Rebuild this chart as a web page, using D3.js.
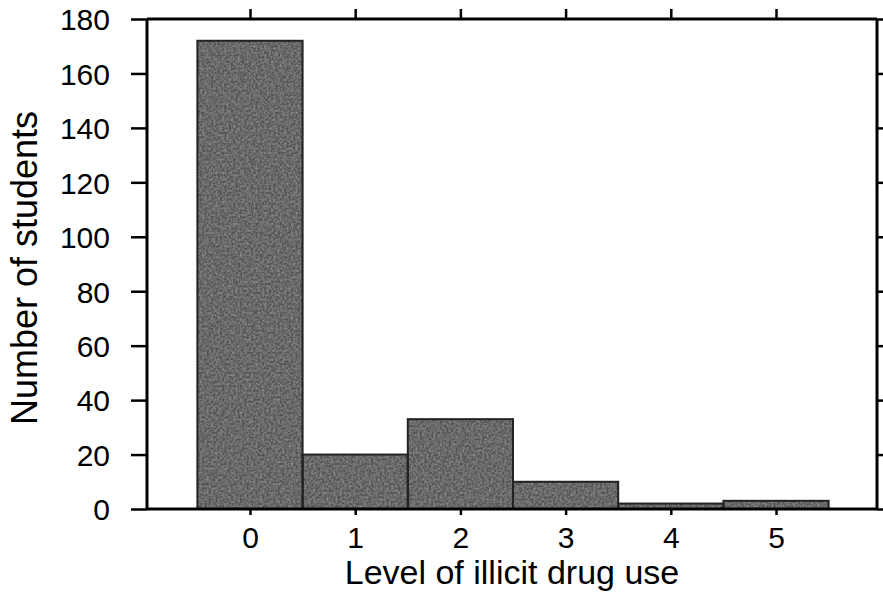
<!DOCTYPE html>
<html>
<head>
<meta charset="utf-8">
<script src="https://cdn.jsdelivr.net/npm/d3@7"></script>
<style>
  html, body { margin: 0; padding: 0; background: #fff; }
  svg { display: block; }
</style>
</head>
<body>
<div id="chart"></div>
<script>
// Histogram data
const levels = [0, 1, 2, 3, 4, 5];
const counts = [172, 20, 33, 10, 2, 3];
const yTicks = [0, 20, 40, 60, 80, 100, 120, 140, 160, 180];

const width = 883, height = 598;
const margin = {top: 19, right: 6, bottom: 89, left: 147};
const innerWidth = width - margin.left - margin.right;
const innerHeight = height - margin.top - margin.bottom;

const svg = d3.select('#chart')
    .append('svg')
    .attr('width', width)
    .attr('height', height);

// Grainy fill like the scanned original
const grain = svg.append('defs').append('filter')
    .attr('id', 'grain')
    .attr('x', 0).attr('y', 0).attr('width', 1).attr('height', 1);
grain.append('feTurbulence')
    .attr('type', 'fractalNoise')
    .attr('baseFrequency', 0.45)
    .attr('numOctaves', 2)
    .attr('seed', 4)
    .attr('result', 'noise');
grain.append('feColorMatrix')
    .attr('in', 'noise')
    .attr('type', 'matrix')
    .attr('values', '0 0 0 0 0.45  0 0 0 0 0.45  0 0 0 0 0.45  0.9 0 0 0 -0.3')
    .attr('result', 'speck');
grain.append('feComposite')
    .attr('in', 'speck')
    .attr('in2', 'SourceAlpha')
    .attr('operator', 'in')
    .attr('result', 'speckIn');
const merge = grain.append('feMerge');
merge.append('feMergeNode').attr('in', 'SourceGraphic');
merge.append('feMergeNode').attr('in', 'speckIn');

const g = svg.append('g')
    .attr('transform', `translate(${margin.left}, ${margin.top})`);

const x = d3.scaleLinear()
    .domain([-0.979, 5.96])
    .range([0, innerWidth]);

const y = d3.scaleLinear()
    .domain([0, 180])
    .range([innerHeight, 0]);

const font = 'Liberation Sans, Arial, sans-serif';

// Bars: grainy fill, then a crisp outline on top
g.selectAll('.bar')
    .data(levels)
    .enter()
    .append('rect')
    .attr('class', 'bar')
    .attr('x', d => x(d - 0.5))
    .attr('width', x(0.5) - x(-0.5))
    .attr('y', (d, i) => y(counts[i]))
    .attr('height', (d, i) => innerHeight - y(counts[i]))
    .attr('fill', '#555555')
    .attr('filter', 'url(#grain)');

g.selectAll('.bar-edge')
    .data(levels)
    .enter()
    .append('rect')
    .attr('class', 'bar-edge')
    .attr('x', d => x(d - 0.5))
    .attr('width', x(0.5) - x(-0.5))
    .attr('y', (d, i) => y(counts[i]))
    .attr('height', (d, i) => innerHeight - y(counts[i]))
    .attr('fill', 'none')
    .attr('stroke', '#222')
    .attr('stroke-width', 2);

// Axes
const leftAxis = g.append('g')
    .call(d3.axisLeft(y).tickValues(yTicks).tickSize(16).tickPadding(21));
const rightAxis = g.append('g')
    .attr('transform', `translate(${innerWidth}, 0)`)
    .call(d3.axisRight(y).tickValues(yTicks).tickSize(8));
const bottomAxis = g.append('g')
    .attr('transform', `translate(0, ${innerHeight})`)
    .call(d3.axisBottom(x).tickValues(levels).tickFormat(d3.format('d')).tickSize(6).tickPadding(12));
const topAxis = g.append('g')
    .call(d3.axisTop(x).tickValues(levels).tickSize(10));

rightAxis.selectAll('.tick text').remove();
topAxis.selectAll('.tick text').remove();

[leftAxis, rightAxis, bottomAxis, topAxis].forEach(ax => {
    ax.select('.domain').attr('stroke', '#000').attr('stroke-width', 3);
    ax.selectAll('.tick line').attr('stroke', '#000').attr('stroke-width', 2.5);
    ax.selectAll('.tick text')
        .attr('fill', '#000')
        .attr('font-family', font)
        .attr('font-size', '30px');
});
leftAxis.select('.domain').attr('d', `M0,${innerHeight}V0`);
rightAxis.select('.domain').attr('d', `M0,${innerHeight}V0`);
bottomAxis.select('.domain').attr('d', `M0,0H${innerWidth}`);
topAxis.select('.domain').attr('d', `M0,0H${innerWidth}`);
leftAxis.selectAll('.tick text').attr('dy', '0.36em');

// Axis labels
svg.append('text')
    .attr('x', 512)
    .attr('y', 584)
    .attr('text-anchor', 'middle')
    .attr('font-family', font)
    .attr('font-size', '34px')
    .attr('fill', '#000')
    .text('Level of illicit drug use');

svg.append('text')
    .attr('transform', 'rotate(-90)')
    .attr('x', -268)
    .attr('y', 37)
    .attr('text-anchor', 'middle')
    .attr('font-family', font)
    .attr('font-size', '36px')
    .attr('fill', '#000')
    .text('Number of students');
</script>
</body>
</html>
